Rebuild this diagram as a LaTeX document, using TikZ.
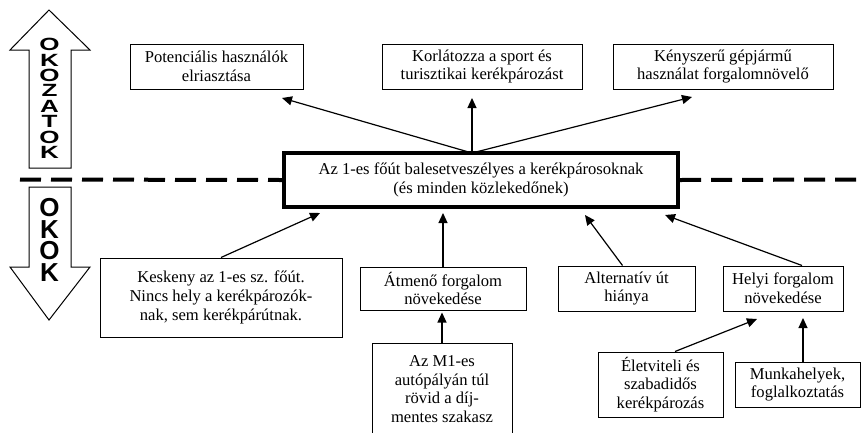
\documentclass[tikz,border=0pt]{standalone}
\usepackage{fontspec}
\setmainfont{Liberation Serif}
\newfontfamily\lettersfont{Liberation Sans}
\usetikzlibrary{arrows.meta,calc}

\begin{document}
\begin{tikzpicture}[x=1pt,y=-1pt,
  box/.style={draw, line width=1pt, align=center, inner sep=0pt,
    font=\fontsize{16.6}{18.8}\selectfont},
  mainbox/.style={box, line width=4pt},
  link/.style={line width=1.2pt, -{Triangle[length=10pt,width=9pt]}},
  bigarrow/.style={draw, line width=1pt},
  vletter/.style={font=\lettersfont\bfseries\fontsize{26}{26}\selectfont, inner sep=0pt},
  divider/.style={line width=4pt, dash pattern=on 21pt off 10pt}
]
\useasboundingbox (0,0) rectangle (863,432);
\clip (0,0) rectangle (863,432);

% hollow direction arrows on the left
\draw[bigarrow] (49,10) -- (90,50) -- (71,50) -- (71,168) -- (29,168) -- (29,50) -- (10,50) -- cycle;
\draw[bigarrow] (29,187) -- (71,187) -- (71,267) -- (90,267) -- (49,320) -- (10,267) -- (29,267) -- cycle;
\foreach \ch [count=\i] in {O,K,O,Z,A,T,O,K}
  \node[vletter] (up\i) at (49.5,{44.7+15.4*(\i-1)}) {\scalebox{1}[0.68]{\ch}};
\foreach \ch [count=\i] in {O,K,O,K}
  \node[vletter] (down\i) at (49.5,{207.7+21.5*(\i-1)}) {\ch};

% central problem
\node[mainbox, minimum width=394pt, minimum height=54pt] (center) at (481,180)
  {Az 1-es főút balesetveszélyes a kerékpárosoknak\\(és minden közlekedőnek)};

% dividing line between effects and causes
\coordinate (dl) at (20,179.5);
\coordinate (dr) at (863,179.5);
\draw[divider] (dl) -- (center.west);
\draw[divider] (center.east) -- (dr);

% effects
\node[box, minimum width=173pt, minimum height=45pt] (eff1) at (216.5,66.5)
  {Potenciális használók\\elriasztása};
\node[box, minimum width=200pt, minimum height=45pt] (eff2) at (482,66.5)
  {Korlátozza a sport és\\turisztikai kerékpározást};
\node[box, minimum width=220pt, minimum height=45pt] (eff3) at (723,66.5)
  {Kényszerű gépjármű\\használat forgalomnövelő};

\coordinate (hub) at (472,153);
\coordinate (tip1) at (282,98);
\coordinate (tip2) at (472,98);
\coordinate (tip3) at (692,97);
\draw[link] (hub) -- (tip1);
\draw[link] (hub) -- (tip2);
\draw[link] (hub) -- (tip3);

% causes
\node[box, minimum width=242pt, minimum height=79pt] (kesk) at (221,297.5)
  {Keskeny az 1-es sz. főút.\\Nincs hely a kerékpározók-\\nak, sem kerékpárútnak.};
\node[box, minimum width=166pt, minimum height=43pt] (atm) at (443,288.5)
  {Átmenő forgalom\\növekedése};
\node[box, minimum width=137pt, minimum height=45pt] (alt) at (626.5,288.5)
  {Alternatív út\\hiánya};
\node[box, minimum width=120pt, minimum height=45pt] (helyi) at (783,288.5)
  {Helyi forgalom\\növekedése};
\node[box, minimum width=140pt, minimum height=92pt] (m1) at (442,389)
  {Az M1-es\\autópályán túl\\rövid a díj-\\mentes szakasz};
\node[box, minimum width=125pt, minimum height=65pt] (elet) at (660.5,384.5)
  {Életviteli és\\szabadidős\\kerékpározás};
\node[box, minimum width=125pt, minimum height=45pt] (munka) at (797.5,384.5)
  {Munkahelyek,\\foglalkoztatás};

\coordinate (c1) at (320,213);
\coordinate (c2) at (443,213);
\coordinate (c3) at (585,215);
\coordinate (c4) at (665,215);
\coordinate (h1) at (757,319);
\coordinate (h2) at (803,318);
\draw[link] (kesk.north) -- (c1);
\draw[link] (atm.north) -- (c2);
\draw[link] ($(alt.north)+(-4,0)$) -- (c3);
\draw[link] ($(helyi.north)+(19,0)$) -- (c4);
\draw[link, shorten >=2pt] (m1.north) -- (m1.north |- atm.south);
\draw[link] ($(elet.north)+(14.5,0)$) -- (h1);
\draw[link] ($(munka.north)+(5.5,0)$) -- (h2);
\end{tikzpicture}
\end{document}
